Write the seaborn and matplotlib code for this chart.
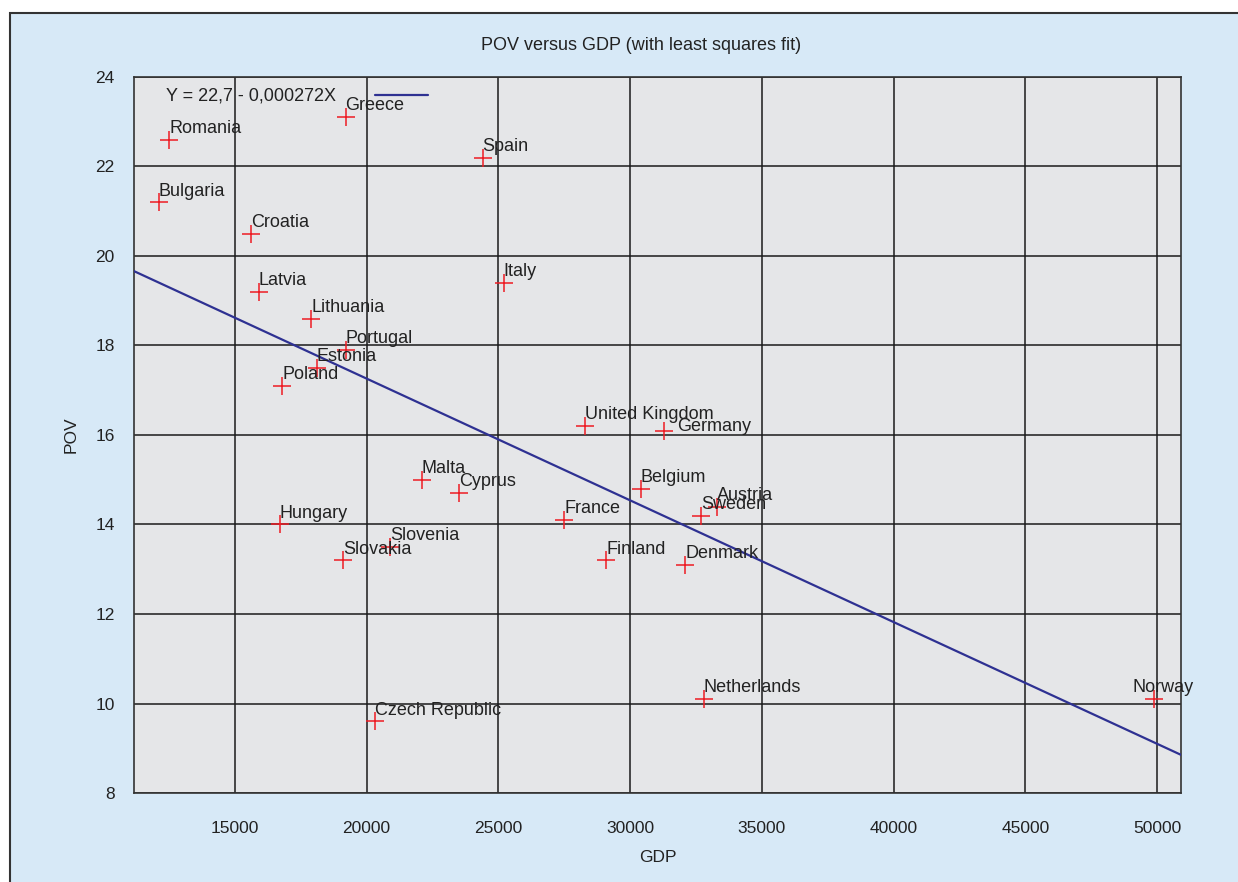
import numpy as np
import pandas as pd
import matplotlib
matplotlib.use('Agg')
import matplotlib.pyplot as plt
import seaborn as sns
from matplotlib.patches import Rectangle

# data
countries = ['Romania', 'Greece', 'Spain', 'Bulgaria', 'Croatia', 'Latvia', 'Italy',
             'Lithuania', 'Portugal', 'Estonia', 'Poland', 'United Kingdom', 'Germany',
             'Malta', 'Cyprus', 'Belgium', 'Austria', 'Sweden', 'France', 'Hungary',
             'Slovenia', 'Slovakia', 'Finland', 'Denmark', 'Netherlands', 'Norway',
             'Czech Republic']
gdp = [12500, 19200, 24400, 12100, 15600, 15900, 25200,
       17900, 19200, 18100, 16800, 28300, 31300,
       22100, 23500, 30400, 33300, 32700, 27500, 16700,
       20900, 19100, 29100, 32100, 32800, 49900,
       20300]
pov = [22.6, 23.1, 22.2, 21.2, 20.5, 19.2, 19.4,
       18.6, 17.9, 17.5, 17.1, 16.2, 16.1,
       15.0, 14.7, 14.8, 14.4, 14.2, 14.1, 14.0,
       13.5, 13.2, 13.2, 13.1, 10.1, 10.1,
       9.6]
intercept = 22.7
slope = -0.000272
x_ticks = [15000, 20000, 25000, 30000, 35000, 40000, 45000, 50000]
y_ticks = [8, 10, 12, 14, 16, 18, 20, 22, 24]

# label offsets (points) that differ from the default top-right placement
label_offsets = {'Germany': (9, -3), 'Norway': (-16, 2)}

df = pd.DataFrame({'country': countries, 'GDP': gdp, 'POV': pov})

sns.set_style('white')
plt.rcParams['font.family'] = ['Liberation Sans', 'DejaVu Sans']
txt = '#222222'

fig = plt.figure(figsize=(12.38, 8.82), dpi=100)
fig.patch.set_facecolor('white')
# light blue panel with a dark border on top/left
fig.patches.append(Rectangle((10 / 1238, -0.05), 1.2, 1 - 13 / 882 + 0.05,
                             transform=fig.transFigure, facecolor='#d7e9f7',
                             edgecolor='#333333', linewidth=1.5, zorder=-10))

ax = fig.add_axes([134 / 1238, 1 - 793 / 882, (1181 - 134) / 1238, (793 - 77) / 882])
ax.set_facecolor('#e5e6e8')
xlim = (11170, 50910)
ax.set_xlim(xlim)
ax.set_ylim(8, 24)

# least squares fit line
fit = pd.DataFrame({'GDP': np.linspace(xlim[0], xlim[1], 50)})
fit['POV'] = intercept + slope * fit['GDP']
sns.lineplot(data=fit, x='GDP', y='POV', ax=ax, color='#2e3192', linewidth=1.6,
             label='Y = 22,7 - 0,000272X', zorder=3)

sns.scatterplot(data=df, x='GDP', y='POV', ax=ax, marker='+', color='#ee1c24',
                s=170, linewidth=1.1, zorder=4, legend=False)

for c, x, y in zip(countries, gdp, pov):
    ax.annotate(c, (x, y), xytext=label_offsets.get(c, (0, 2)), textcoords='offset points',
                ha='left', va='bottom', fontsize=13, color=txt, zorder=5)

ax.set_xticks(x_ticks)
ax.set_yticks(y_ticks)
ax.grid(True, color='#1a1a1a', linewidth=1.1)
ax.set_axisbelow(True)
for s in ax.spines.values():
    s.set_color('#333333')
    s.set_linewidth(1.2)
ax.tick_params(axis='x', length=0, pad=20, labelsize=12.5, labelcolor=txt)
ax.tick_params(axis='y', length=0, pad=14, labelsize=12.5, labelcolor=txt)
ax.set_xlabel('GDP', fontsize=12.5, color=txt, labelpad=10)
ax.set_ylabel('POV', fontsize=12.5, color=txt, labelpad=12)

leg = ax.legend(loc='upper left', frameon=False, markerfirst=False, fontsize=13,
                handlelength=2.9, handletextpad=2.2, bbox_to_anchor=(0.02, 1.0),
                borderaxespad=0.2)
for t in leg.get_texts():
    t.set_color(txt)

fig.text(641 / 1238, 1 - 46 / 882, 'POV versus GDP (with least squares fit)',
         ha='center', va='center', fontsize=13, color=txt)

fig.savefig('out.png', dpi=100, facecolor=fig.get_facecolor())
